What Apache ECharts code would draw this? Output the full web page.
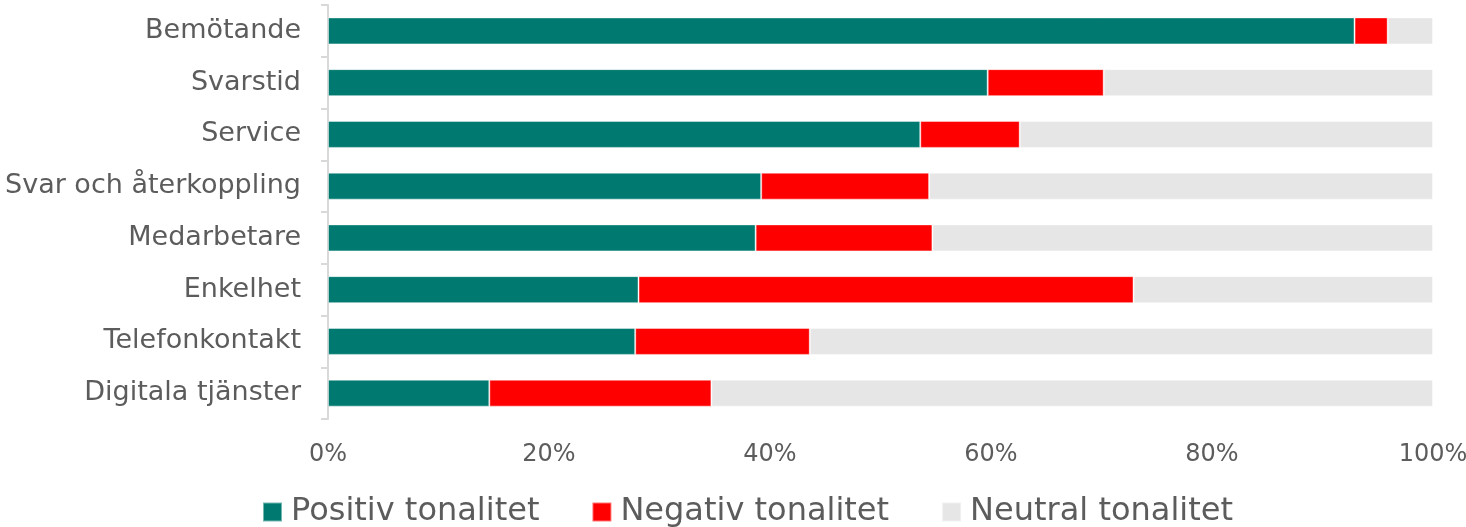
<!DOCTYPE html>
<html>
<head>
<meta charset="utf-8">
<script src="https://cdn.jsdelivr.net/npm/echarts@6/dist/echarts.min.js"></script>
<style>
  html, body { margin: 0; padding: 0; background: #fff; }
  #main { width: 1466px; height: 527px; }
</style>
</head>
<body>
<div id="main"></div>
<script>
const categories = ['Bemötande', 'Svarstid', 'Service', 'Svar och återkoppling', 'Medarbetare', 'Enkelhet', 'Telefonkontakt', 'Digitala tjänster'];
const positive = [92.9, 59.7, 53.6, 39.2, 38.7, 28.1, 27.8, 14.6];
const negative = [3.0, 10.5, 9.0, 15.2, 16.0, 44.8, 15.8, 20.1];
const neutral = [4.1, 29.8, 37.4, 45.6, 45.3, 27.1, 56.4, 65.3];
const seriesNames = ['Positiv tonalitet', 'Negativ tonalitet', 'Neutral tonalitet'];

const dom = document.getElementById('main');
const myChart = echarts.init(dom);
const font = '"DejaVu Sans", sans-serif';
const txt = '#5c5c5c';

const barStyle = (color) => ({
  color: color,
  borderColor: 'rgba(255,255,255,0.45)',
  borderWidth: 1
});

const option = {
  animation: false,
  color: ['#007A70', '#FF0000', '#E6E6E6'],
  textStyle: { fontFamily: font },
  grid: { left: 328, right: 33, top: 5, bottom: 108, containLabel: false, outerBoundsMode: 'none' },
  legend: {
    data: seriesNames,
    top: 491,
    left: 257,
    itemWidth: 19,
    itemHeight: 19,
    itemGap: 52,
    icon: 'rect',
    textStyle: { fontSize: 32, color: txt, fontFamily: font, padding: [0, 0, 0, 4] }
  },
  xAxis: {
    type: 'value',
    min: 0,
    max: 100,
    interval: 20,
    splitLine: { show: false },
    axisLine: { show: false },
    axisTick: { show: false },
    axisLabel: {
      formatter: '{value}%',
      fontSize: 24,
      color: txt,
      margin: 24
    }
  },
  yAxis: {
    type: 'category',
    data: categories,
    inverse: true,
    axisLine: { show: true, lineStyle: { color: '#D9D9D9', width: 2 } },
    axisTick: { show: true, length: 7, lineStyle: { color: '#D9D9D9', width: 2 } },
    axisLabel: { fontSize: 27, color: txt, margin: 27 }
  },
  series: [
    { name: seriesNames[0], type: 'bar', stack: 'all', data: positive, barWidth: 27, itemStyle: barStyle('#007A70') },
    { name: seriesNames[1], type: 'bar', stack: 'all', data: negative, barWidth: 27, itemStyle: barStyle('#FF0000') },
    { name: seriesNames[2], type: 'bar', stack: 'all', data: neutral, barWidth: 27, itemStyle: barStyle('#E6E6E6') }
  ]
};

myChart.setOption(option);
window.addEventListener('resize', myChart.resize);
</script>
</body>
</html>
